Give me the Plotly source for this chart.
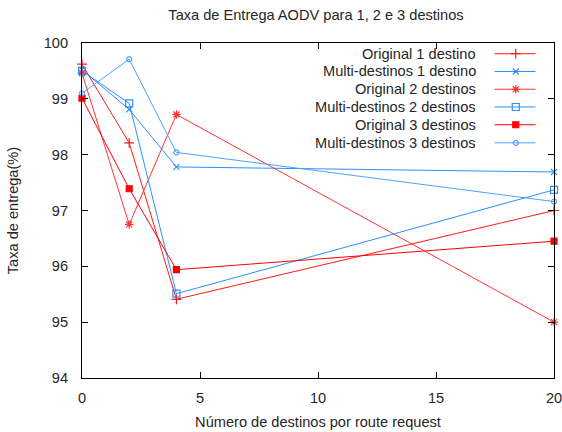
import plotly.graph_objects as go

# Número de destinos por route request
x_vals = [0, 2, 4, 20]

# Taxa de entrega (%) por série
original_1 = [99.62, 98.21, 95.41, 97.00]
multi_1 = [99.52, 98.81, 97.78, 97.69]
original_2 = [99.46, 96.75, 98.72, 95.00]
multi_2 = [99.50, 98.92, 95.51, 97.37]
original_3 = [99.01, 97.39, 95.94, 96.45]
multi_3 = [99.10, 99.71, 98.04, 97.16]

series_names = [
    "Original 1 destino",
    "Multi-destinos 1 destino",
    "Original 2 destinos",
    "Multi-destinos 2 destinos",
    "Original 3 destinos",
    "Multi-destinos 3 destinos",
]
series_values = [original_1, multi_1, original_2, multi_2, original_3, multi_3]

x_ticks = [0, 5, 10, 15, 20]
y_ticks = [94, 95, 96, 97, 98, 99, 100]

RED = "#ff1a1a"
BLUE = "#2b8fff"
BLUE_LIGHT = "#4da3ff"

styles = [
    dict(color=RED, symbol="cross-thin-open", size=7),
    dict(color=BLUE, symbol="x-thin-open", size=6),
    dict(color="#ff3333", symbol="asterisk-open", size=7),
    dict(color=BLUE, symbol="square-open", size=7),
    dict(color="#ff0000", symbol="square", size=6),
    dict(color=BLUE_LIGHT, symbol="circle-open", size=5),
]

FONT = "Liberation Sans, Arial, sans-serif"
FS = 14.6
TEXT = "#262626"

fig = go.Figure()

for name, vals, st in zip(series_names, series_values, styles):
    fig.add_trace(go.Scatter(
        x=x_vals, y=vals, name=name, mode="lines+markers",
        line=dict(color=st["color"], width=1),
        marker=dict(symbol=st["symbol"], size=st["size"], color=st["color"],
                    line=dict(color=st["color"], width=1.2)),
        cliponaxis=False, showlegend=False,
    ))

# Key drawn inside the frame: label on the left, line sample on the right
key_rows = [0.968, 0.915, 0.862, 0.809, 0.756, 0.702]
key_text_x = 0.838
key_line = [0.874, 0.961]
key_mid = 0.919
for name, st, ry in zip(series_names, styles, key_rows):
    fig.add_trace(go.Scatter(
        x=key_line, y=[ry, ry], mode="lines", xaxis="x2", yaxis="y2",
        line=dict(color=st["color"], width=1), showlegend=False, hoverinfo="skip",
    ))
    fig.add_trace(go.Scatter(
        x=[key_mid], y=[ry], mode="markers", xaxis="x2", yaxis="y2",
        marker=dict(symbol=st["symbol"], size=st["size"], color=st["color"],
                    line=dict(color=st["color"], width=1.2)),
        showlegend=False, hoverinfo="skip",
    ))
    fig.add_annotation(
        x=key_text_x, y=ry, xref="x2", yref="y2", text=name, showarrow=False,
        xanchor="right", yanchor="middle", font=dict(family=FONT, size=FS, color=TEXT),
    )

axis_common = dict(
    showline=True, linecolor="black", linewidth=1, mirror="allticks",
    ticks="inside", ticklen=6, tickcolor="black", showgrid=False, zeroline=False,
    tickfont=dict(family=FONT, size=FS, color=TEXT), automargin=False,
    ticklabeloverflow="allow",
)

fig.update_layout(
    width=562, height=432,
    margin=dict(l=82, r=8, t=43, b=54),
    paper_bgcolor="white", plot_bgcolor="white",
    title=dict(text="Taxa de Entrega AODV para 1, 2 e 3 destinos",
               x=0.5623, xanchor="center", y=0.966, yanchor="middle",
               font=dict(family=FONT, size=FS, color=TEXT)),
    xaxis=dict(range=[0, 20], tickvals=x_ticks, ticklabelstandoff=6,
               title=dict(text="Número de destinos por route request", standoff=12,
                          font=dict(family=FONT, size=FS, color=TEXT)),
               **axis_common),
    yaxis=dict(range=[94, 100], tickvals=y_ticks, ticklabelstandoff=10,
               title=dict(text="Taxa de entrega(%)", standoff=21,
                          font=dict(family=FONT, size=FS, color=TEXT)),
               **axis_common),
    xaxis2=dict(range=[0, 1], overlaying="x", visible=False, fixedrange=True),
    yaxis2=dict(range=[0, 1], overlaying="y", visible=False, fixedrange=True),
    showlegend=False,
)

fig.write_html("out.html")
